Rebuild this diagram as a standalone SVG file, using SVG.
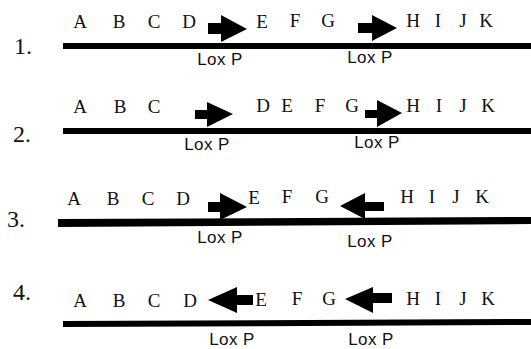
<svg xmlns="http://www.w3.org/2000/svg" width="531" height="349" viewBox="0 0 531 349">
<style>
.num{font-family:"Liberation Serif",serif;font-size:24px;fill:#111}
.gene{font-family:"Liberation Serif",serif;font-size:19px;fill:#111;text-anchor:middle}
.lox{font-family:"Liberation Sans",sans-serif;font-size:17px;letter-spacing:0.4px;fill:#111;text-anchor:middle}
.dna{fill:#000}
.arr{fill:#000}
</style>
<rect width="531" height="349" fill="#fff"/>
<g id="row1">
<text class="num" x="14" y="54">1.</text>
<rect class="dna" x="63" y="43" width="468" height="6"/>
<g class="gene"><text x="80" y="28">A</text><text x="119" y="28">B</text><text x="154" y="28">C</text><text x="189" y="28">D</text><text x="262" y="28">E</text><text x="295" y="27">F</text><text x="328" y="27">G</text><text x="413" y="27">H</text><text x="438" y="27">I</text><text x="463" y="27">J</text><text x="486" y="27">K</text></g>
<polygon class="arr" points="208,23 221,23 221,15 247,29 221,42 221,34 208,34"/>
<polygon class="arr" points="358,23 372,23 372,15 397,28 372,41 372,33 358,33"/>
<text class="lox" x="220" y="65">Lox P</text>
<text class="lox" x="370" y="63">Lox P</text>
</g>
<g id="row2">
<text class="num" x="13" y="142">2.</text>
<rect class="dna" x="63" y="128" width="468" height="6"/>
<g class="gene"><text x="80" y="113">A</text><text x="120" y="113">B</text><text x="154" y="113">C</text><text x="263" y="112">D</text><text x="287" y="112">E</text><text x="320" y="112">F</text><text x="352" y="112">G</text><text x="413" y="112">H</text><text x="439" y="112">I</text><text x="463" y="112">J</text><text x="488" y="112">K</text></g>
<polygon class="arr" points="195,110 207,110 207,102 233,114 207,127 207,119 195,119"/>
<polygon class="arr" points="365,110 377,110 377,100 402,113 377,127 377,118 365,118"/>
<text class="lox" x="207" y="150">Lox P</text>
<text class="lox" x="377" y="148">Lox P</text>
</g>
<g id="row3">
<text class="num" x="7" y="227">3.</text>
<polygon class="dna" points="58,219 531,217 531,224 58,227"/>
<g class="gene"><text x="74" y="205">A</text><text x="113" y="205">B</text><text x="148" y="205">C</text><text x="183" y="205">D</text><text x="254" y="204">E</text><text x="287" y="203">F</text><text x="322" y="203">G</text><text x="407" y="203">H</text><text x="432" y="203">I</text><text x="456" y="203">J</text><text x="482" y="203">K</text></g>
<polygon class="arr" points="208,202 220,202 220,193 247,207 220,220 220,212 208,212"/>
<polygon class="arr" points="340,206 365,193 365,202 384,202 384,211 365,211 365,219"/>
<text class="lox" x="220" y="243">Lox P</text>
<text class="lox" x="370" y="247">Lox P</text>
</g>
<g id="row4">
<text class="num" x="13" y="300">4.</text>
<polygon class="dna" points="63,321 531,319 531,325 63,327"/>
<g class="gene"><text x="80" y="307">A</text><text x="119" y="307">B</text><text x="154" y="307">C</text><text x="190" y="307">D</text><text x="261" y="306">E</text><text x="297" y="305">F</text><text x="329" y="305">G</text><text x="413" y="305">H</text><text x="438" y="305">I</text><text x="463" y="305">J</text><text x="488" y="305">K</text></g>
<polygon class="arr" points="208,300 237,287 237,295 253,295 253,305 237,305 237,313"/>
<polygon class="arr" points="345,299 373,287 373,293 392,293 392,303 373,303 373,313"/>
<text class="lox" x="232" y="345">Lox P</text>
<text class="lox" x="371" y="345">Lox P</text>
</g>
</svg>
